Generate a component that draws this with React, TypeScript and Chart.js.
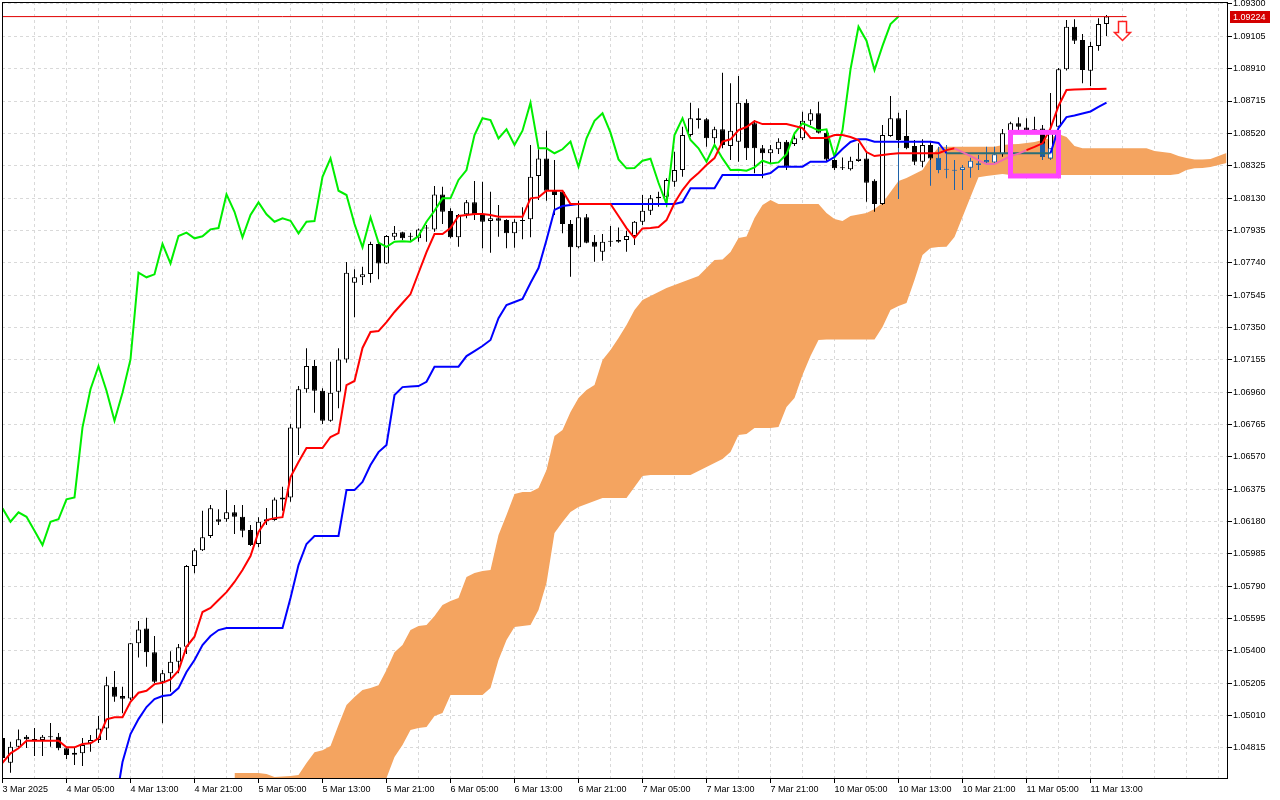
import React, { useEffect, useRef } from "react";
import { Chart, registerables } from "chart.js";

Chart.register(...registerables);

// ---------- time axis ----------
const timeLabels = [
  "3 Mar 2025", "4 Mar 05:00", "4 Mar 13:00", "4 Mar 21:00", "5 Mar 05:00", "5 Mar 13:00",
  "5 Mar 21:00", "6 Mar 05:00", "6 Mar 13:00", "6 Mar 21:00", "7 Mar 05:00", "7 Mar 13:00",
  "7 Mar 21:00", "10 Mar 05:00", "10 Mar 13:00", "10 Mar 21:00", "11 Mar 05:00", "11 Mar 13:00",
];
const labelEvery = 8; // bars between time labels
const gridEvery = 4; // bars between vertical grid lines

// ---------- price axis ----------
const priceTicks = [
  1.093, 1.09105, 1.0891, 1.08715, 1.0852, 1.08325, 1.0813, 1.07935, 1.0774, 1.07545, 1.0735, 1.07155,
  1.0696, 1.06765, 1.0657, 1.06375, 1.0618, 1.05985, 1.0579, 1.05595, 1.054, 1.05205, 1.0501, 1.04815,
];

// ---------- EURUSD H1 candles (bar 0 .. 138) ----------
const open = [
  1.04874, 1.04725, 1.04821, 1.04882, 1.04862, 1.04862, 1.04878, 1.04882, 1.04812, 1.04773,
  1.04782, 1.04842, 1.04862, 1.04932, 1.05183, 1.05127, 1.05113, 1.05445, 1.05535, 1.05391,
  1.05213, 1.05264, 1.05334, 1.05424, 1.05911, 1.06007, 1.06092, 1.06193, 1.06193, 1.06235,
  1.06208, 1.06128, 1.06044, 1.06181, 1.06188, 1.06313, 1.06325, 1.06741, 1.06977, 1.07117,
  1.06968, 1.06787, 1.06962, 1.07157, 1.07619, 1.07652, 1.07672, 1.07853, 1.07736, 1.07897,
  1.07923, 1.07897, 1.07887, 1.07946, 1.07941, 1.08152, 1.08052, 1.07893, 1.08032, 1.08104,
  1.08028, 1.07991, 1.08008, 1.07997, 1.07917, 1.07997, 1.08002, 1.08263, 1.08369, 1.08172,
  1.08168, 1.07973, 1.07833, 1.08014, 1.07867, 1.07806, 1.07867, 1.07877, 1.07877, 1.07901,
  1.07987, 1.08053, 1.08138, 1.08138, 1.08228, 1.08299, 1.0851, 1.08611, 1.08605, 1.0849,
  1.08544, 1.08444, 1.0847, 1.08705, 1.08581, 1.0843, 1.084, 1.08424, 1.0847, 1.08456,
  1.0849, 1.08596, 1.08641, 1.08524, 1.08359, 1.08309, 1.08303, 1.08353, 1.08369, 1.08234,
  1.08094, 1.08504, 1.08611, 1.08504, 1.08444, 1.08349, 1.0845, 1.08373, 1.08303, 1.08297,
  1.08299, 1.08313, 1.08329, 1.08359, 1.08345, 1.08394, 1.0852, 1.08581, 1.08556, 1.08536,
  1.0855, 1.08369, 1.0856, 1.08906, 1.09163, 1.09083, 1.08898, 1.09047, 1.09179,
];
const high = [
  1.04898, 1.04852, 1.04926, 1.04892, 1.04934, 1.04892, 1.04964, 1.04904, 1.0482, 1.04814,
  1.04874, 1.04892, 1.05007, 1.05243, 1.05278, 1.05183, 1.05447, 1.05579, 1.05599, 1.05489,
  1.05284, 1.05398, 1.05441, 1.05917, 1.06018, 1.06244, 1.06279, 1.06253, 1.06369, 1.06279,
  1.06279, 1.06158, 1.06205, 1.06261, 1.06325, 1.06389, 1.06767, 1.06996, 1.07224, 1.07153,
  1.06983, 1.07143, 1.07224, 1.07744, 1.077, 1.07716, 1.07867, 1.07867, 1.07907, 1.07961,
  1.07927, 1.07921, 1.07947, 1.07967, 1.08202, 1.08198, 1.08068, 1.08034, 1.08118, 1.08233,
  1.08228, 1.08168, 1.08088, 1.08002, 1.08002, 1.08074, 1.0845, 1.08424, 1.08536, 1.08359,
  1.08178, 1.07997, 1.08114, 1.08034, 1.07907, 1.07913, 1.07961, 1.07953, 1.07933, 1.07991,
  1.08148, 1.08148, 1.08168, 1.08249, 1.08409, 1.0856, 1.08705, 1.08671, 1.08612, 1.0856,
  1.08886, 1.08822, 1.08866, 1.08725, 1.086, 1.0845, 1.0845, 1.0849, 1.0848, 1.0851,
  1.0865, 1.08665, 1.08711, 1.0854, 1.08379, 1.08375, 1.08379, 1.0846, 1.08409, 1.08243,
  1.0857, 1.08745, 1.08644, 1.08661, 1.0848, 1.08484, 1.0847, 1.08439, 1.0845, 1.08359,
  1.08329, 1.08373, 1.08389, 1.08439, 1.08439, 1.08546, 1.0859, 1.08617, 1.08611, 1.0862,
  1.0857, 1.08763, 1.08914, 1.09203, 1.09208, 1.09119, 1.09073, 1.09214, 1.09234,
];
const low = [
  1.04729, 1.04665, 1.04812, 1.04814, 1.04765, 1.04765, 1.04821, 1.04801, 1.04747, 1.04711,
  1.04705, 1.04791, 1.04844, 1.04862, 1.05093, 1.05023, 1.05103, 1.0536, 1.05304, 1.05206,
  1.04963, 1.05153, 1.05264, 1.0538, 1.05867, 1.06001, 1.0608, 1.06158, 1.06178, 1.06104,
  1.06084, 1.06032, 1.06024, 1.06158, 1.06184, 1.06244, 1.06299, 1.0658, 1.06956, 1.06835,
  1.06767, 1.06781, 1.06862, 1.07137, 1.07411, 1.07605, 1.07619, 1.0764, 1.07732, 1.07877,
  1.07877, 1.07873, 1.07867, 1.07867, 1.07927, 1.07973, 1.07887, 1.07836, 1.08008, 1.07997,
  1.07827, 1.078, 1.07897, 1.07827, 1.0783, 1.07881, 1.07893, 1.08118, 1.08114, 1.08028,
  1.07917, 1.07655, 1.07827, 1.07857, 1.07746, 1.07752, 1.07836, 1.07861, 1.07806, 1.07847,
  1.07967, 1.08028, 1.08078, 1.08078, 1.08198, 1.08258, 1.085, 1.0855, 1.08439, 1.08439,
  1.0843, 1.08359, 1.08349, 1.08359, 1.08279, 1.08249, 1.08335, 1.08395, 1.08299, 1.08444,
  1.0848, 1.0857, 1.08519, 1.08349, 1.08299, 1.08299, 1.08296, 1.08349, 1.08108, 1.08047,
  1.08088, 1.085, 1.08432, 1.08424, 1.08329, 1.08315, 1.08359, 1.08279, 1.08249, 1.08178,
  1.08178, 1.08252, 1.08299, 1.08339, 1.08339, 1.08379, 1.0851, 1.0854, 1.08522, 1.08522,
  1.08359, 1.08359, 1.08555, 1.08899, 1.09059, 1.08822, 1.08805, 1.09018, 1.09107,
];
const close = [
  1.04753, 1.04821, 1.04866, 1.04866, 1.04866, 1.04882, 1.04882, 1.04812, 1.04771, 1.04785,
  1.04832, 1.04862, 1.04932, 1.05192, 1.05123, 1.05111, 1.05445, 1.05529, 1.05391, 1.05213,
  1.05264, 1.05334, 1.05421, 1.05911, 1.06007, 1.06084, 1.06259, 1.06178, 1.06235, 1.06208,
  1.06124, 1.06038, 1.06178, 1.06193, 1.06313, 1.06325, 1.06747, 1.06977, 1.07117, 1.06968,
  1.06787, 1.06956, 1.07157, 1.0768, 1.07652, 1.0767, 1.07853, 1.07736, 1.07901, 1.07921,
  1.07887, 1.07899, 1.07941, 1.07949, 1.08152, 1.08047, 1.07893, 1.08028, 1.08104, 1.08032,
  1.07987, 1.08008, 1.07993, 1.07917, 1.07987, 1.07991, 1.08258, 1.08369, 1.08174, 1.08148,
  1.07973, 1.07833, 1.08014, 1.07861, 1.07836, 1.07867, 1.07869, 1.07867, 1.07901, 1.07987,
  1.08053, 1.08128, 1.08128, 1.08239, 1.08299, 1.0851, 1.08611, 1.086, 1.0849, 1.08544,
  1.0845, 1.08536, 1.08705, 1.0843, 1.0843, 1.084, 1.08424, 1.0847, 1.08319, 1.0849,
  1.08596, 1.08641, 1.08524, 1.08363, 1.08309, 1.08311, 1.08355, 1.08367, 1.08222, 1.08094,
  1.0851, 1.08611, 1.0848, 1.0843, 1.08349, 1.0845, 1.08369, 1.08299, 1.08301, 1.08295,
  1.08315, 1.08355, 1.08339, 1.08345, 1.08394, 1.0852, 1.08581, 1.0856, 1.08537, 1.08544,
  1.08379, 1.0854, 1.08906, 1.09163, 1.09079, 1.08902, 1.09047, 1.09179, 1.09224,
];

// ---------- Ichimoku lines ----------
const tenkan = [
  1.04725, 1.04782, 1.04812, 1.04858, 1.04858, 1.04858, 1.04858, 1.04858, 1.04818, 1.04818,
  1.04838, 1.04842, 1.04872, 1.04987, 1.04999, 1.04999, 1.05093, 1.05147, 1.05159, 1.05199,
  1.05207, 1.05228, 1.0528, 1.05424, 1.05485, 1.05634, 1.05658, 1.05706, 1.05754, 1.05815,
  1.05887, 1.05971, 1.06116, 1.06188, 1.062, 1.06206, 1.06448, 1.06538, 1.06623, 1.06623,
  1.06623, 1.06689, 1.06713, 1.07002, 1.07027, 1.07226, 1.07322, 1.07328, 1.07382, 1.07443,
  1.07497, 1.07551, 1.07678, 1.07804, 1.07913, 1.07913, 1.07949, 1.08022, 1.08028, 1.08034,
  1.08034, 1.08028, 1.08017, 1.08017, 1.08017, 1.08017, 1.08128, 1.08134, 1.08174, 1.08174,
  1.08174, 1.08094, 1.08094, 1.08094, 1.08094, 1.08094, 1.08094, 1.08022, 1.07949, 1.07889,
  1.07947, 1.07949, 1.07955, 1.07997, 1.081, 1.08178, 1.08239, 1.08281, 1.08329, 1.08371,
  1.0847, 1.08484, 1.0854, 1.08558, 1.08594, 1.08576, 1.08576, 1.08576, 1.08576, 1.08564,
  1.08552, 1.08492, 1.08492, 1.08492, 1.0851, 1.0851, 1.08498, 1.0848, 1.08407, 1.08383,
  1.08389, 1.08395, 1.084, 1.084, 1.084, 1.084, 1.084, 1.084, 1.08419, 1.0843,
  1.08407, 1.08383, 1.08359, 1.08335, 1.08335, 1.08359, 1.08383, 1.08398, 1.08419, 1.08438,
  1.0846, 1.0855, 1.08685, 1.08781, 1.08784, 1.08786, 1.08787, 1.08787, 1.08789,
];
const kijun = [
  null, null, null, null, null, null, null, null, null, null,
  null, null, null, 1.04198, 1.0444, 1.04729, 1.04898, 1.04988, 1.05061, 1.05109,
  1.05127, 1.05133, 1.05175, 1.05272, 1.05344, 1.05435, 1.05489, 1.05525, 1.05537, 1.05537,
  1.05537, 1.05537, 1.05537, 1.05537, 1.05537, 1.05537, 1.05718, 1.05917, 1.06044, 1.06092,
  1.06092, 1.06092, 1.06092, 1.06369, 1.06369, 1.06418, 1.0652, 1.06598, 1.06641, 1.06942,
  1.0699, 1.06993, 1.06996, 1.07022, 1.07113, 1.07113, 1.07113, 1.07113, 1.07177, 1.07207,
  1.07238, 1.07274, 1.07406, 1.07485, 1.07503, 1.07521, 1.07618, 1.07708, 1.07877, 1.08058,
  1.08082, 1.08088, 1.08094, 1.08094, 1.08094, 1.08094, 1.08094, 1.08094, 1.08094, 1.08094,
  1.08094, 1.08094, 1.08094, 1.08094, 1.08094, 1.08106, 1.08189, 1.08189, 1.08189, 1.08189,
  1.08269, 1.08269, 1.08269, 1.08269, 1.08269, 1.08269, 1.08281, 1.08319, 1.08319, 1.08319,
  1.08319, 1.08349, 1.08349, 1.08349, 1.08377, 1.08426, 1.08468, 1.08484, 1.08484, 1.0847,
  1.0847, 1.0847, 1.0847, 1.0847, 1.0847, 1.0847, 1.0847, 1.08462, 1.084, 1.084,
  1.084, 1.084, 1.084, 1.084, 1.084, 1.084, 1.084, 1.084, 1.084, 1.084,
  1.084, 1.084, 1.08552, 1.08618, 1.08628, 1.0864, 1.08652, 1.08679, 1.08705,
];
// Chikou span: plotted from bar 0 to bar 112
const chikou = [
  1.06259, 1.06178, 1.06235, 1.06208, 1.06124, 1.06038, 1.06178, 1.06193, 1.06313, 1.06325,
  1.06747, 1.06977, 1.07117, 1.06968, 1.06787, 1.06956, 1.07157, 1.0768, 1.07652, 1.0767,
  1.07853, 1.07736, 1.07901, 1.07921, 1.07887, 1.07899, 1.07941, 1.07949, 1.08152, 1.08047,
  1.07893, 1.08028, 1.08104, 1.08032, 1.07987, 1.08008, 1.07993, 1.07917, 1.07987, 1.07991,
  1.08258, 1.08369, 1.08174, 1.08148, 1.07973, 1.07833, 1.08014, 1.07861, 1.07836, 1.07867,
  1.07869, 1.07867, 1.07901, 1.07987, 1.08053, 1.08128, 1.08128, 1.08239, 1.08299, 1.0851,
  1.08611, 1.086, 1.0849, 1.08544, 1.0845, 1.08536, 1.08705, 1.0843, 1.0843, 1.084,
  1.08424, 1.0847, 1.08319, 1.0849, 1.08596, 1.08641, 1.08524, 1.08363, 1.08309, 1.08311,
  1.08355, 1.08367, 1.08222, 1.08094, 1.0851, 1.08611, 1.0848, 1.0843, 1.08349, 1.0845,
  1.08369, 1.08299, 1.08301, 1.08295, 1.08315, 1.08355, 1.08339, 1.08345, 1.08394, 1.0852,
  1.08581, 1.0856, 1.08537, 1.08544, 1.08379, 1.0854, 1.08906, 1.09163, 1.09079, 1.08902,
  1.09047, 1.09179, 1.09224,
];
// Kumo (bars 29 .. 153)
const cloudStart = 29;
const senkouA = [
  1.04663, 1.04663, 1.04663, 1.04663, 1.04657, 1.04639, 1.04642, 1.04645, 1.04651, 1.04723,
  1.04789, 1.04801, 1.04826, 1.04952, 1.05073, 1.05121, 1.05163, 1.05175, 1.05193, 1.05284,
  1.05392, 1.05435, 1.05525, 1.05549, 1.05555, 1.0561, 1.05676, 1.057, 1.05718, 1.05845,
  1.05869, 1.05881, 1.05887, 1.06098, 1.06219, 1.06345, 1.06357, 1.06357, 1.06381, 1.0649,
  1.06695, 1.06731, 1.0684, 1.06924, 1.06972, 1.07002, 1.07153, 1.07213, 1.07286, 1.07364,
  1.07455, 1.07515, 1.07539, 1.07563, 1.07587, 1.07605, 1.07624, 1.07642, 1.0766, 1.07708,
  1.07756, 1.07759, 1.07804, 1.07889, 1.07898, 1.08009, 1.08088, 1.08118, 1.08094, 1.08094,
  1.08094, 1.08094, 1.08094, 1.08094, 1.0804, 1.08003, 1.07991, 1.08022, 1.08031, 1.0804,
  1.08064, 1.081, 1.08166, 1.08233, 1.08251, 1.08275, 1.08299, 1.08371, 1.08438, 1.08439,
  1.08439, 1.08439, 1.08439, 1.08439, 1.08439, 1.08439, 1.0845, 1.08454, 1.08456, 1.08462,
  1.08468, 1.0848, 1.08492, 1.08516, 1.08498, 1.08444, 1.0843, 1.0843, 1.0843, 1.0843,
  1.0843, 1.0843, 1.0843, 1.0843, 1.0843, 1.08413, 1.08407, 1.08401, 1.08383, 1.08371,
  1.08363, 1.08363, 1.08365, 1.08383, 1.08401,
];
const senkouB = [
  1.0456, 1.0456, 1.0456, 1.0456, 1.0456, 1.0456, 1.0456, 1.0456, 1.0456, 1.0456,
  1.0456, 1.0456, 1.0456, 1.0456, 1.0456, 1.0456, 1.0456, 1.0456, 1.0456, 1.04633,
  1.04759, 1.04832, 1.04922, 1.04934, 1.0494, 1.05007, 1.05025, 1.05133, 1.05133, 1.05133,
  1.05133, 1.05133, 1.05175, 1.05344, 1.05465, 1.05543, 1.05549, 1.05555, 1.05646, 1.05809,
  1.0611, 1.06176, 1.06237, 1.06267, 1.06285, 1.06303, 1.06321, 1.06321, 1.06321, 1.06321,
  1.06387, 1.06454, 1.0646, 1.0646, 1.0646, 1.0646, 1.0646, 1.0646, 1.06484, 1.06508,
  1.06532, 1.06556, 1.06598, 1.06701, 1.06707, 1.06743, 1.06743, 1.06743, 1.06749, 1.0687,
  1.06924, 1.07063, 1.07177, 1.07274, 1.07277, 1.07277, 1.07277, 1.07277, 1.07277, 1.07277,
  1.07277, 1.07352, 1.07455, 1.07479, 1.07497, 1.07636, 1.07786, 1.07829, 1.07835, 1.07836,
  1.07895, 1.08015, 1.08136, 1.08255, 1.08263, 1.08269, 1.08275, 1.08269, 1.08269, 1.08269,
  1.08269, 1.08269, 1.08269, 1.08269, 1.08269, 1.08269, 1.08269, 1.08269, 1.08269, 1.08269,
  1.08269, 1.08269, 1.08269, 1.08269, 1.08269, 1.08269, 1.08269, 1.08269, 1.08275, 1.08299,
  1.08309, 1.08311, 1.08317, 1.08329, 1.08341,
];

// ---------- highlighted (blue) candles & partial overlays ----------
const blueFrom = 117;
const blueTo = 124;
const overlayBars = [112, 116, 130, 131];
const overlayWickHigh = [1.08432, 1.08359, 1.0846, 1.0843];
const overlayWickLow = [1.08124, 1.08204, 1.08359, 1.08359];
const overlayBodyTop = [null, null, 1.0846, 1.0843];
const overlayBodyBottom = [null, null, 1.08379, 1.08369];
const overlayBodyFilled = [false, false, true, false];

// recoloured indicator segments
const pinkFrom = 119;
const pinkTo = 127;
const tealFrom = 118;
const tealTo = 130;

// price / annotations
const currentPrice = 1.09224;
const priceLineEnd = 140.5;
const signalArrowBar = 140;
const zoneFrom = 126;
const zoneTo = 132;
const zoneTop = 1.08526;
const zoneBottom = 1.08263;

// visible window
const xMin = -0.0625;
const xMax = 153.1875;
const yMin = 1.04627;
const yMax = 1.09312;

const COL = {
  bull: "#ffffff",
  bear: "#000000",
  blue: "#1e62a8",
  tenkan: "#ff0000",
  pink: "#f06aae",
  kijun: "#0000ff",
  teal: "#2a6e78",
  chikou: "#00ee00",
  cloud: "#f4a460",
  grid: "#d9d9d9",
  box: "#ff44ff",
  price: "#e00000",
};
const FONT = { family: "'Liberation Sans', Arial, sans-serif", size: 9 };

const isBlue = (i: number) => i >= blueFrom && i <= blueTo;
const labelAt = (v: number) => {
  const n = Math.round(v);
  return n % labelEvery === 0 ? timeLabels[n / labelEvery] || "" : "";
};

function buildConfig(): any {
  const pts = (arr: any[], start = 0) => arr.map((v, k) => ({ x: start + k, y: v }));
  const bodyData = open.map((o, i) => ({ x: i, y: [Math.min(o, close[i]), Math.max(o, close[i])] }));
  const wickData = open.map((_, i) => ({ x: i, y: [low[i], high[i]] }));
  const ovWick = overlayBars.map((b, k) => ({ x: b, y: [overlayWickLow[k], overlayWickHigh[k]] }));
  const ovBodyIdx = overlayBars.map((_, k) => k).filter((k) => overlayBodyTop[k] != null);
  const ovBody = ovBodyIdx.map((k) => ({ x: overlayBars[k], y: [overlayBodyBottom[k], overlayBodyTop[k]] }));
  const gridTicks = Array.from({ length: Math.floor(xMax / gridEvery) + 1 }, (_, k) => k * gridEvery);

  const lineBase = { type: "line", pointRadius: 0, pointHoverRadius: 0, tension: 0, borderWidth: 2, fill: false };
  const barBase = { type: "bar", grouped: false, inflateAmount: 0, borderSkipped: false };

  return {
    type: "line",
    data: {
      datasets: [
        { ...lineBase, label: "Senkou B", data: pts(senkouB, cloudStart), borderColor: "rgba(0,0,0,0)", borderWidth: 0, order: 20 },
        { ...lineBase, label: "Senkou A", data: pts(senkouA, cloudStart), borderColor: "rgba(0,0,0,0)", borderWidth: 0, backgroundColor: COL.cloud, fill: "-1", order: 19 },
        {
          ...barBase, label: "wicks", data: wickData, barThickness: 1, borderWidth: 0,
          backgroundColor: (c: any) => (isBlue(c.dataIndex) ? COL.blue : COL.bear), order: 15,
        },
        {
          ...barBase, label: "bodies", data: bodyData, barThickness: 5, borderWidth: 1, minBarLength: 1,
          backgroundColor: (c: any) => {
            const i = c.dataIndex;
            const bull = close[i] >= open[i];
            if (isBlue(i)) return bull ? COL.bull : COL.blue;
            return bull ? COL.bull : COL.bear;
          },
          borderColor: (c: any) => (isBlue(c.dataIndex) ? COL.blue : COL.bear),
          order: 14,
        },
        { ...barBase, label: "overlay wicks", data: ovWick, barThickness: 1, borderWidth: 0, backgroundColor: COL.blue, order: 13 },
        {
          ...barBase, label: "overlay bodies", data: ovBody, barThickness: 5, borderWidth: 1,
          backgroundColor: (c: any) => (overlayBodyFilled[ovBodyIdx[c.dataIndex]] ? COL.blue : COL.bull),
          borderColor: COL.blue, order: 12,
        },
        { ...lineBase, label: "Chikou", data: pts(chikou), borderColor: COL.chikou, order: 5 },
        {
          ...lineBase, label: "Kijun", data: pts(kijun), borderColor: COL.kijun, order: 4,
          segment: { borderColor: (c: any) => (c.p0DataIndex >= tealFrom && c.p0DataIndex <= tealTo ? COL.teal : undefined) },
        },
        {
          ...lineBase, label: "Tenkan", data: pts(tenkan), borderColor: COL.tenkan, order: 3,
          segment: { borderColor: (c: any) => (c.p0DataIndex >= pinkFrom && c.p0DataIndex <= pinkTo ? COL.pink : undefined) },
        },
        {
          ...lineBase, label: "Bid", data: [{ x: xMin - 1, y: currentPrice }, { x: priceLineEnd, y: currentPrice }],
          borderColor: COL.price, borderWidth: 1, order: 2,
        },
      ],
    },
    options: {
      animation: false,
      responsive: false,
      events: [],
      layout: { padding: { left: 2, top: 2, right: 0, bottom: 0 }, autoPadding: false },
      plugins: { legend: { display: false }, tooltip: { enabled: false }, title: { display: false } },
      scales: {
        x: {
          type: "linear",
          min: xMin,
          max: xMax,
          offset: false,
          afterBuildTicks: (s: any) => {
            s.ticks = gridTicks.map((v) => ({ value: v }));
          },
          afterFit: (s: any) => {
            s.height = 21;
            s.paddingLeft = 0;
            s.paddingRight = 0;
          },
          grid: {
            color: COL.grid,
            lineWidth: 1,
            drawTicks: true,
            tickLength: 4,
            tickBorderDash: [],
            tickColor: (c: any) => (c.tick && labelAt(c.tick.value) !== "" ? "#000" : "rgba(0,0,0,0)"),
            offset: false,
          },
          border: { display: false, dash: [3, 3] },
          ticks: {
            autoSkip: false,
            maxRotation: 0,
            minRotation: 0,
            align: "start",
            padding: 1,
            color: "#000",
            font: FONT,
            callback: (v: any) => labelAt(Number(v)),
          },
        },
        y: {
          type: "linear",
          position: "right",
          min: yMin,
          max: yMax,
          afterBuildTicks: (s: any) => {
            s.ticks = priceTicks.map((v) => ({ value: v }));
          },
          afterFit: (s: any) => {
            s.width = 52;
            s.paddingTop = 0;
            s.paddingBottom = 0;
          },
          grid: {
            color: COL.grid,
            lineWidth: 1,
            drawTicks: true,
            tickLength: 4,
            tickBorderDash: [],
            tickColor: "#000",
          },
          border: { display: false, dash: [3, 3] },
          ticks: {
            autoSkip: false,
            crossAlign: "near",
            padding: 1,
            color: "#000",
            font: FONT,
            callback: (v: any) => Number(v).toFixed(5),
          },
        },
      },
    },
    plugins: [
      {
        id: "decorations",
        afterDatasetsDraw(chart: any) {
          const { ctx, scales } = chart;
          const xs = scales.x;
          const ys = scales.y;
          ctx.save();
          // highlighted zone
          const bx1 = xs.getPixelForValue(zoneFrom);
          const bx2 = xs.getPixelForValue(zoneTo);
          const by1 = ys.getPixelForValue(zoneTop);
          const by2 = ys.getPixelForValue(zoneBottom);
          ctx.strokeStyle = COL.box;
          ctx.lineWidth = 5;
          ctx.strokeRect(bx1, by1, bx2 - bx1, by2 - by1);
          // sell arrow
          const ax = Math.round(xs.getPixelForValue(signalArrowBar)) - 0.5;
          const ay = Math.round(ys.getPixelForValue(currentPrice)) + 4.5;
          ctx.beginPath();
          ctx.moveTo(ax - 4, ay);
          ctx.lineTo(ax + 4, ay);
          ctx.lineTo(ax + 4, ay + 11);
          ctx.lineTo(ax + 8, ay + 11);
          ctx.lineTo(ax, ay + 19);
          ctx.lineTo(ax - 8, ay + 11);
          ctx.lineTo(ax - 4, ay + 11);
          ctx.closePath();
          ctx.fillStyle = "#ffffff";
          ctx.fill();
          ctx.strokeStyle = "#ff2020";
          ctx.lineWidth = 1.5;
          ctx.stroke();
          ctx.restore();
        },
        afterDraw(chart: any) {
          const { ctx, chartArea, scales } = chart;
          ctx.save();
          // frame
          ctx.strokeStyle = "#000";
          ctx.lineWidth = 1;
          ctx.strokeRect(chartArea.left + 0.5, chartArea.top + 0.5, chartArea.width - 1, chartArea.height - 1);
          // current price label
          const py = scales.y.getPixelForValue(currentPrice);
          ctx.fillStyle = "#d40000";
          ctx.fillRect(chartArea.right + 2, Math.round(py) - 6, 40, 12);
          ctx.fillStyle = "#ffffff";
          ctx.font = `${FONT.size}px ${FONT.family}`;
          ctx.textBaseline = "middle";
          ctx.textAlign = "left";
          ctx.fillText(currentPrice.toFixed(5), chartArea.right + 5, Math.round(py) + 0.5);
          ctx.restore();
        },
      },
    ],
  };
}

export default function App() {
  const ref = useRef<HTMLCanvasElement | null>(null);
  useEffect(() => {
    document.body.style.margin = "0";
    const chart = new Chart(ref.current as HTMLCanvasElement, buildConfig());
    return () => chart.destroy();
  }, []);
  return (
    <div style={{ width: 1280, height: 800, background: "#ffffff" }}>
      <canvas ref={ref} width={1280} height={800} style={{ display: "block" }} />
    </div>
  );
}
